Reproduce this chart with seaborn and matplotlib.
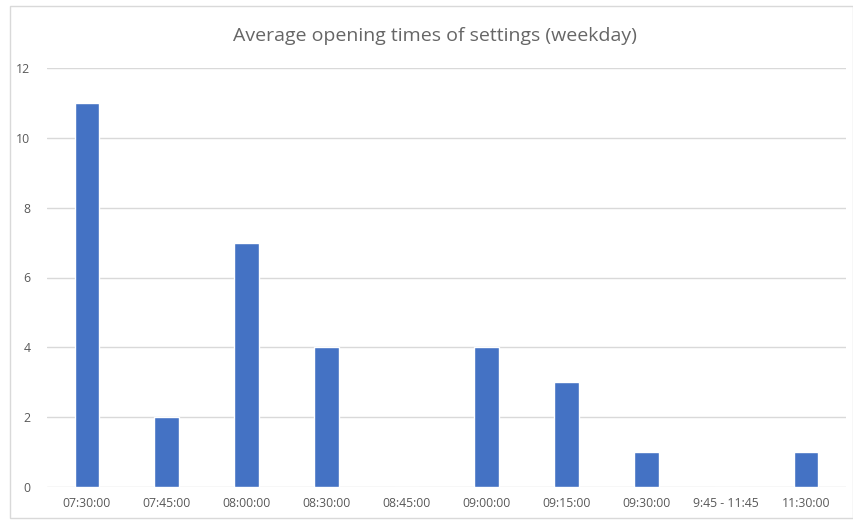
import matplotlib
matplotlib.use("Agg")
import matplotlib.pyplot as plt
import seaborn as sns
import pandas as pd
from matplotlib.patches import Rectangle

times = ["07:30:00", "07:45:00", "08:00:00", "08:30:00", "08:45:00",
         "09:00:00", "09:15:00", "09:30:00", "9:45 - 11:45", "11:30:00"]
counts = [11, 2, 7, 4, 0, 4, 3, 1, 0, 1]

df = pd.DataFrame({"time": times, "count": counts})

sns.set_style("white")
plt.rcParams["font.family"] = ["Open Sans", "DejaVu Sans"]

fig = plt.figure(figsize=(8.54, 5.24), dpi=100)
ax = fig.add_axes([47 / 854, 1 - 487 / 524, 799 / 854, 419 / 524])

sns.barplot(data=df, x="time", y="count", color="#4472C4", saturation=1,
            width=0.31, ax=ax, zorder=3)

ax.set_ylim(0, 12)
ax.set_xlim(-0.5, 9.5)
ax.set_yticks(range(0, 13, 2))
ax.grid(axis="y", color="#d9d9d9", linewidth=1, zorder=0)
for s in ax.spines.values():
    s.set_visible(False)
ax.tick_params(axis="both", length=0, labelsize=8.8, colors="#595959")
ax.tick_params(axis="x", pad=7)
ax.tick_params(axis="y", pad=12)
ax.set_xlabel("")
ax.set_ylabel("")

fig.text(435 / 854, 1 - 36 / 524, "Average opening times of settings (weekday)",
         ha="center", va="center", fontsize=14, color="#666666")

# chart frame
fig.patches.append(Rectangle((10 / 854, 6 / 524), 843 / 854, 512 / 524,
                             transform=fig.transFigure, fill=False,
                             edgecolor="#d9d9d9", linewidth=1))

fig.savefig("out.png", dpi=100)
